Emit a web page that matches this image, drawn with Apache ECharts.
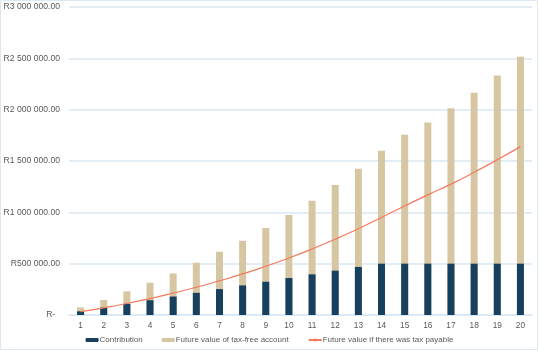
<!DOCTYPE html>
<html>
<head>
<meta charset="utf-8">
<script src="https://cdn.jsdelivr.net/npm/echarts@6/dist/echarts.min.js"></script>
<style>
html, body { margin: 0; padding: 0; background: #fff; }
#result { width: 539px; height: 352px; }
</style>
</head>
<body>
<div id="result"></div>
<script>
var years = ['1', '2', '3', '4', '5', '6', '7', '8', '9', '10',
    '11', '12', '13', '14', '15', '16', '17', '18', '19', '20'];
var contribution = [36000, 72000, 108000, 144000, 180000, 216000, 252000, 288000, 324000, 360000,
    396000, 432000, 468000, 500000, 500000, 500000, 500000, 500000, 500000, 500000];
var futureValue = [74000, 146000, 230000, 314000, 405000, 509000, 616000, 723000, 847000, 974000,
    1113000, 1266000, 1424000, 1600000, 1755000, 1875000, 2015000, 2165000, 2333000, 2515000];
var taxPayable = [33000, 70000, 112000, 160000, 213000, 270000, 333000, 400000, 475000, 555000,
    643000, 738000, 840000, 950000, 1062000, 1170000, 1275000, 1390000, 1512000, 1640000];

var font = 'Liberation Sans';
var grey = '#595959';

function rand(v) {
    if (v === 0) return 'R-  ';
    var s = String(Math.round(v)).replace(/\B(?=(\d{3})+(?!\d))/g, ' ');
    return 'R' + s + '.00';
}

var myChart = echarts.init(document.getElementById('result'));

myChart.setOption({
    animation: false,
    graphic: [{
        type: 'rect',
        shape: { x: 0.5, y: 0.5, width: 537, height: 349 },
        style: { fill: 'none', stroke: '#dce8f4', lineWidth: 1 },
        silent: true
    }],
    legend: {
        data: ['Contribution', 'Future value of tax-free account', 'Future value if there was tax payable'],
        bottom: 3,
        left: 'center',
        itemWidth: 13,
        itemHeight: 4,
        itemGap: 19,
        textStyle: { fontFamily: font, fontSize: 8, color: grey, padding: [0, 0, 0, -4] }
    },
    grid: {
        left: 69,
        right: 7,
        top: 7,
        bottom: 37
    },
    xAxis: {
        type: 'category',
        data: years,
        axisLine: { lineStyle: { color: '#d9e7f3', width: 1.5 } },
        axisTick: { show: false },
        axisLabel: { fontFamily: font, fontSize: 8.3, color: grey, margin: 7 }
    },
    yAxis: {
        type: 'value',
        min: 0,
        max: 3000000,
        interval: 500000,
        axisLine: { show: false },
        axisTick: { show: false },
        splitLine: { lineStyle: { color: '#d9e7f3', width: 1.5 } },
        axisLabel: {
            fontFamily: font, fontSize: 8.6, color: grey, margin: 9,
            formatter: rand
        }
    },
    series: [
        {
            name: 'Future value of tax-free account',
            type: 'bar',
            barWidth: 7,
            itemStyle: { color: '#d6c6a2' },
            data: futureValue
        },
        {
            name: 'Contribution',
            type: 'bar',
            barWidth: 7,
            barGap: '-100%',
            itemStyle: { color: '#17405f' },
            data: contribution
        },
        {
            name: 'Future value if there was tax payable',
            type: 'line',
            smooth: true,
            symbol: 'none',
            lineStyle: { color: '#f47a5c', width: 1.2 },
            itemStyle: { color: '#f47a5c' },
            data: taxPayable
        }
    ]
});
</script>
</body>
</html>
